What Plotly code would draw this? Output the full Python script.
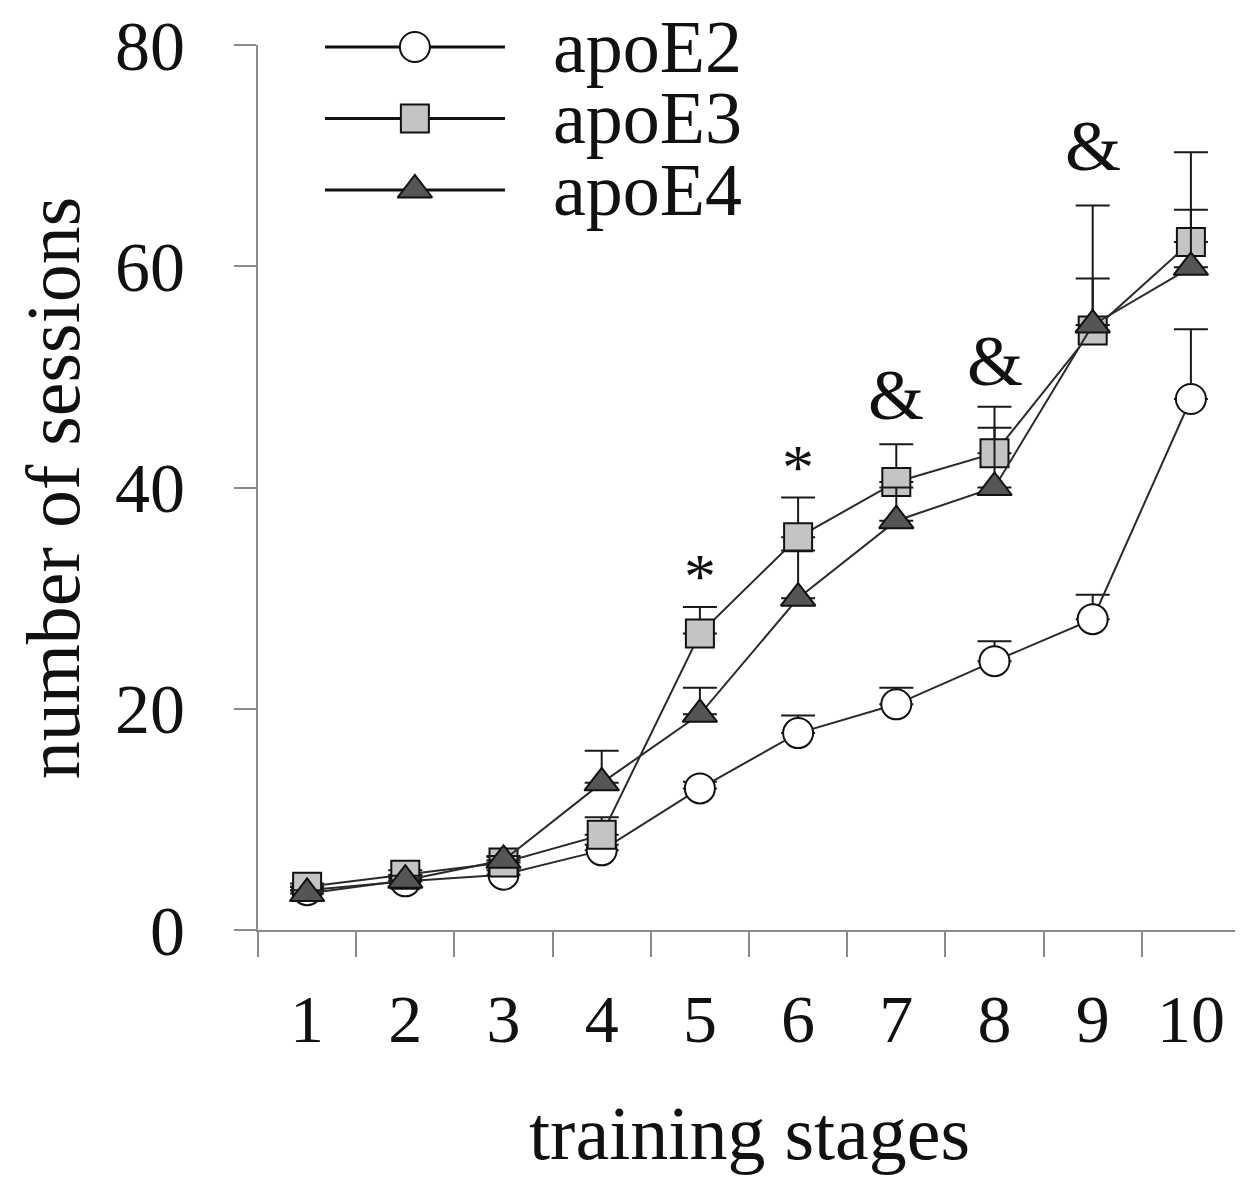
import plotly.graph_objects as go

stages = ["1", "2", "3", "4", "5", "6", "7", "8", "9", "10"]

apoE2 = [3.6, 4.4, 5.0, 7.2, 12.8, 17.8, 20.4, 24.3, 28.1, 48.0]
apoE2_err = [0.3, 0.3, 0.4, 0.5, 0.6, 1.6, 1.5, 1.8, 2.2, 6.3]

apoE3 = [3.9, 5.0, 6.1, 8.6, 26.8, 35.5, 40.5, 43.1, 54.2, 62.2]
apoE3_err = [0.3, 0.4, 0.5, 1.6, 2.4, 3.6, 3.4, 4.2, 4.7, 8.1]

apoE4 = [3.3, 4.5, 6.3, 13.3, 19.5, 30.0, 37.0, 40.0, 54.7, 59.9]
apoE4_err = [0.3, 0.4, 0.4, 2.9, 2.4, 4.3, 3.0, 5.4, 10.8, 5.2]

sig_stages = ["5", "6", "7", "8", "9"]
sig_marks = ["*", "*", "&", "&", "&"]
sig_y = [32.0, 41.8, 48.4, 51.4, 70.9]

legend_names = ["apoE2", "apoE3", "apoE4"]

FONT = "Liberation Serif"
LINE = "#2a2a2a"
AXIS = "#8a8a8a"
TXT = "#111111"

series = [
    ("apoE2", apoE2, apoE2_err, "circle", "#ffffff", 30),
    ("apoE3", apoE3, apoE3_err, "square", "#c4c4c4", 28),
    ("apoE4", apoE4, apoE4_err, "triangle-up", "#555555", 30),
]

fig = go.Figure()
for name, vals, err, sym, fill, size in series:
    fig.add_trace(go.Scatter(
        x=stages, y=vals, name=name, mode="lines+markers",
        line=dict(color=LINE, width=2),
        marker=dict(symbol=sym, size=size, color=fill,
                    line=dict(color="#111111", width=2)),
        error_y=dict(type="data", array=err, arrayminus=[0] * len(err),
                     symmetric=False, color="#1a1a1a", thickness=2, width=17),
        cliponaxis=False, showlegend=False,
    ))

# Manual legend keys on an auxiliary axis pair (rows 2,1,0 from top)
Y2_DOMAIN = [0.8, 1.0]
Y2_RANGE = [-0.4476, 2.028]
leg_rows = [2, 1, 0]
for (name, vals, err, sym, fill, size), row in zip(series, leg_rows):
    fig.add_trace(go.Scatter(
        x=[0, 1], y=[row, row], mode="lines",
        line=dict(color="#111111", width=3),
        xaxis="x2", yaxis="y2", showlegend=False, hoverinfo="skip",
        cliponaxis=False,
    ))
    fig.add_trace(go.Scatter(
        x=[0.5], y=[row], mode="markers",
        marker=dict(symbol=sym, size=size, color=fill, opacity=1,
                    line=dict(color="#111111", width=2)),
        xaxis="x2", yaxis="y2", showlegend=False, hoverinfo="skip",
        cliponaxis=False,
    ))

for name, row in zip(legend_names, leg_rows):
    ypaper = Y2_DOMAIN[0] + (Y2_DOMAIN[1] - Y2_DOMAIN[0]) * (row - Y2_RANGE[0]) / (Y2_RANGE[1] - Y2_RANGE[0])
    fig.add_annotation(x=0.298, y=ypaper, xref="paper", yref="paper", text=name,
                       showarrow=False, xanchor="left", yanchor="middle",
                       font=dict(family=FONT, size=74, color=TXT))

for st, mk, yy in zip(sig_stages, sig_marks, sig_y):
    fig.add_annotation(x=stages.index(st), y=yy, text=mk, showarrow=False,
                       xanchor="center", yanchor="middle",
                       font=dict(family=FONT, size=72 if mk == "&" else 64,
                                 color=TXT))

# axis titles
fig.add_annotation(x=-0.209, y=0.5, xref="paper", yref="paper",
                   text="number of sessions", textangle=-90, showarrow=False,
                   xanchor="center", yanchor="middle",
                   font=dict(family=FONT, size=76, color=TXT))
fig.add_annotation(x=0.5, y=-0.229, xref="paper", yref="paper",
                   text="training stages", showarrow=False,
                   xanchor="center", yanchor="middle",
                   font=dict(family=FONT, size=76, color=TXT))

fig.update_layout(
    width=1243, height=1178,
    margin=dict(l=250, r=11, t=37, b=256),
    paper_bgcolor="white", plot_bgcolor="white",
    font=dict(family=FONT, color=TXT),
    xaxis=dict(type="category", categoryorder="array", categoryarray=stages,
               range=[-0.5, 9.5], tickson="boundaries", ticks="outside",
               ticklen=25, tickwidth=2, tickcolor=AXIS, showline=True,
               linecolor=AXIS, linewidth=2, showgrid=False, zeroline=False,
               tickfont=dict(family=FONT, size=68, color=TXT),
               ticklabelstandoff=28, ticklabeloverflow="allow",
               automargin=False),
    yaxis=dict(range=[0, 80], tickvals=[0, 20, 40, 60, 80], ticks="outside",
               ticklen=22, tickwidth=2, tickcolor=AXIS, showline=True,
               linecolor=AXIS, linewidth=2, showgrid=False, zeroline=False,
               tickfont=dict(family=FONT, size=70, color=TXT),
               ticklabelstandoff=35, ticklabeloverflow="allow",
               automargin=False),
    xaxis2=dict(domain=[0.068, 0.2515], range=[0, 1], visible=False,
                anchor="y2", fixedrange=True, automargin=False),
    yaxis2=dict(domain=Y2_DOMAIN, range=Y2_RANGE, visible=False,
                anchor="x2", fixedrange=True, automargin=False),
)

fig.write_html("out.html")
